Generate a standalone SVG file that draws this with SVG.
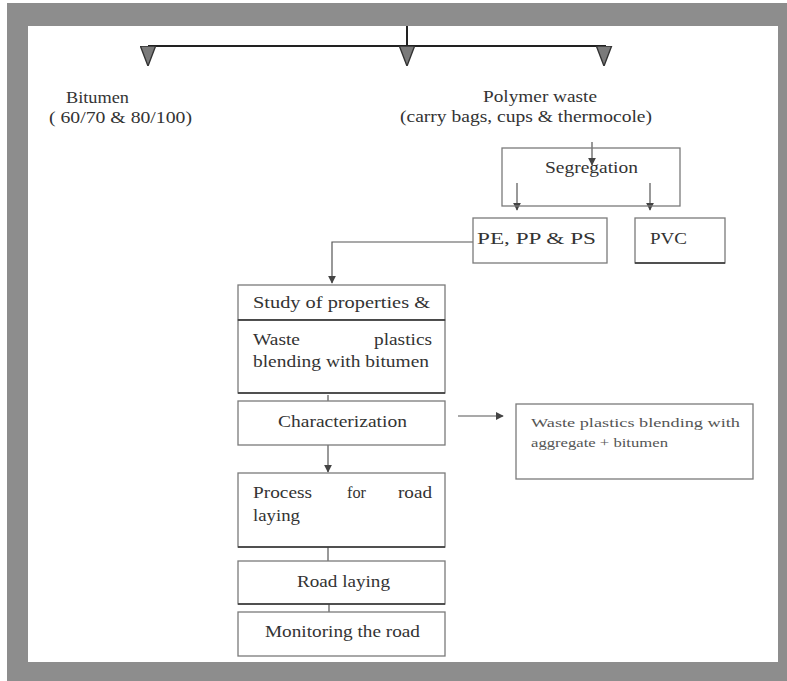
<svg xmlns="http://www.w3.org/2000/svg" width="787" height="681" viewBox="0 0 787 681">
<style>
.t{font-family:"Liberation Serif","Times New Roman",serif;font-size:16.5px;fill:#333}
.s{font-size:13.5px;fill:#555}
.box{fill:#fff;stroke:#7a7a7a;stroke-width:1.3}
.dk{stroke:#333;stroke-width:1.6}
.ln{fill:none;stroke:#555;stroke-width:1.2}
.top{fill:none;stroke:#222;stroke-width:2}
</style>
<defs>
<marker id="a" viewBox="0 0 10 10" refX="9" refY="5" markerWidth="8" markerHeight="8" orient="auto" markerUnits="userSpaceOnUse">
<path d="M0,0 L10,5 L0,10 Z" fill="#444"/>
</marker>
<marker id="big" viewBox="0 0 10 10" refX="1" refY="5" markerWidth="20" markerHeight="17" orient="auto" markerUnits="userSpaceOnUse" preserveAspectRatio="none">
<path d="M0,0.5 L10,5 L0,9.5 Z" fill="#7a7a7a" stroke="#333" stroke-width="0.8"/>
</marker>
</defs>
<rect x="0" y="0" width="787" height="681" fill="#fff"/>
<rect x="7" y="3" width="780" height="678" fill="#8d8d8d"/>
<rect x="28" y="26" width="750" height="636" fill="#fff"/>

<g id="connectors">
<path class="top" d="M407,26 V46 M148,46 H606"/>
<path class="top" d="M148,46 V48" marker-end="url(#big)"/>
<path class="top" d="M407,46 V48" marker-end="url(#big)"/>
<path class="top" d="M604,46 V48" marker-end="url(#big)"/>
<path class="ln" d="M592,142 V165" marker-end="url(#a)"/>
<path class="ln" d="M517,183 V210" marker-end="url(#a)"/>
<path class="ln" d="M650,183 V210" marker-end="url(#a)"/>
<path class="ln" d="M473,242 H332 V283" marker-end="url(#a)"/>
<path class="ln" d="M330,298 V319" marker-end="url(#a)"/>
<path class="ln" d="M328,395 V417" marker-end="url(#a)"/>
<path class="ln" d="M458,416 H503" marker-end="url(#a)"/>
<path class="ln" d="M328,445 V472" marker-end="url(#a)"/>
<path class="ln" d="M328,547 V569" marker-end="url(#a)"/>
<path class="ln" d="M329,604 V627" marker-end="url(#a)"/>
</g>

<g id="bitumen">
<text class="t" x="66" y="103" textLength="63" lengthAdjust="spacingAndGlyphs">Bitumen</text>
<text class="t" x="49" y="123" textLength="143" lengthAdjust="spacingAndGlyphs">( 60/70 &amp; 80/100)</text>
</g>
<g id="polymer">
<text class="t" x="483" y="102" textLength="114" lengthAdjust="spacingAndGlyphs">Polymer waste</text>
<text class="t" x="400" y="122" textLength="252" lengthAdjust="spacingAndGlyphs">(carry bags, cups &amp; thermocole)</text>
</g>
<g id="segregation">
<rect class="box" x="502" y="148" width="178" height="58" fill-opacity="0"/>
<text class="t" x="545" y="173" textLength="93" lengthAdjust="spacingAndGlyphs">Segregation</text>
</g>
<g id="pe">
<rect class="box" x="473" y="218" width="134" height="45"/>
<text class="t" x="477" y="244" textLength="119" lengthAdjust="spacingAndGlyphs">PE, PP &amp; PS</text>
</g>
<g id="pvc">
<rect class="box" x="635" y="218" width="90" height="45"/>
<line class="dk" x1="635" y1="263" x2="725" y2="263"/>
<text class="t" x="650" y="244" textLength="37" lengthAdjust="spacingAndGlyphs">PVC</text>
</g>
<g id="study">
<rect class="box" x="238" y="285" width="207" height="35"/>
<text class="t" x="253" y="308" textLength="177" lengthAdjust="spacingAndGlyphs">Study of properties &amp;</text>
</g>
<g id="blending">
<rect class="box" x="238" y="320" width="207" height="73"/>
<line class="dk" x1="238" y1="320" x2="445" y2="320"/>
<line class="dk" x1="238" y1="393" x2="445" y2="393"/>
<text class="t" x="253" y="345" textLength="47" lengthAdjust="spacingAndGlyphs">Waste</text>
<text class="t" x="432" y="345" text-anchor="end" textLength="58" lengthAdjust="spacingAndGlyphs">plastics</text>
<text class="t" x="253" y="367" textLength="176" lengthAdjust="spacingAndGlyphs">blending with bitumen</text>
</g>
<g id="characterization">
<rect class="box" x="238" y="401" width="207" height="44" stroke="#999"/>
<text class="t" x="278" y="427" textLength="129" lengthAdjust="spacingAndGlyphs" fill="#666">Characterization</text>
</g>
<g id="aggregate">
<rect class="box" x="516" y="404" width="237" height="75" stroke="#999"/>
<text class="t s" x="531" y="427" textLength="209" lengthAdjust="spacingAndGlyphs">Waste plastics blending with</text>
<text class="t s" x="531" y="447" textLength="137" lengthAdjust="spacingAndGlyphs">aggregate + bitumen</text>
</g>
<g id="process">
<rect class="box" x="238" y="473" width="207" height="74"/>
<line class="dk" x1="238" y1="547" x2="445" y2="547"/>
<text class="t" x="253" y="498" textLength="59" lengthAdjust="spacingAndGlyphs">Process</text>
<text class="t" x="347" y="498" textLength="19" lengthAdjust="spacingAndGlyphs">for</text>
<text class="t" x="432" y="498" text-anchor="end" textLength="34" lengthAdjust="spacingAndGlyphs">road</text>
<text class="t" x="253" y="521" textLength="47" lengthAdjust="spacingAndGlyphs">laying</text>
</g>
<g id="roadlaying">
<rect class="box" x="238" y="561" width="207" height="43"/>
<line class="dk" x1="238" y1="604" x2="445" y2="604"/>
<text class="t" x="297" y="587" textLength="93" lengthAdjust="spacingAndGlyphs">Road laying</text>
</g>
<g id="monitoring">
<rect class="box" x="238" y="612" width="207" height="44"/>
<text class="t" x="265" y="637" textLength="155" lengthAdjust="spacingAndGlyphs">Monitoring the road</text>
</g>
</svg>
